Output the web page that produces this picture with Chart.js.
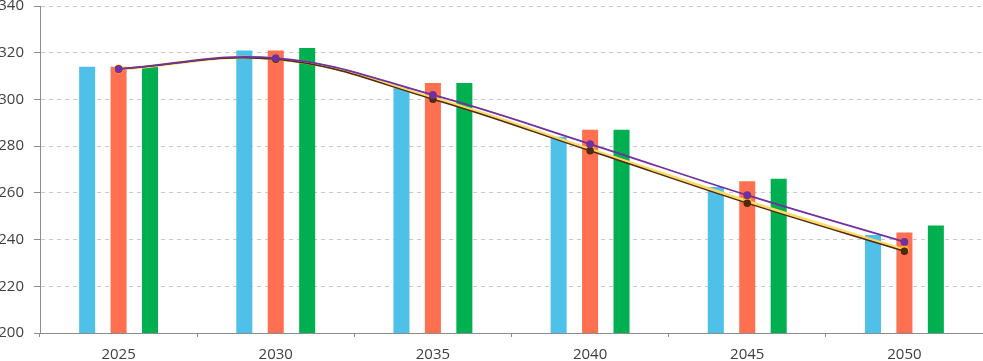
<!DOCTYPE html>
<html>
<head>
<meta charset="utf-8">
<script src="https://cdn.jsdelivr.net/npm/chart.js@4"></script>
<style>
  html, body { margin: 0; padding: 0; background: #fff; overflow: hidden; }
  #wrap { position: relative; width: 983px; height: 361px; }
</style>
</head>
<body>
<div id="wrap"><canvas id="chart"></canvas></div>
<script>
const years = ["2025", "2030", "2035", "2040", "2045", "2050"];

// bars
const barBlue = [314, 321, 305, 284, 262.5, 242];
const barOrange = [314, 321, 307, 287, 265, 243];
const barGreen = [314, 322, 307, 287, 266, 246];

// lines
const linePurple = [313, 317.7, 301.9, 280.9, 259, 239];
const lineYellow = [313, 317.4, 300.6, 278.6, 256.4, 235.6];
const lineBrown = [313, 317.2, 300.1, 278, 255.6, 235];

const yTicks = { min: 200, max: 340, step: 20 };

const ctx = document.getElementById("chart").getContext("2d");

function lineSet(data, color, width, pointColor) {
  return {
    type: "line",
    data: data,
    borderColor: color,
    borderWidth: width,
    backgroundColor: pointColor,
    pointBackgroundColor: pointColor,
    pointBorderColor: pointColor,
    pointRadius: 3,
    tension: 0.4,
    fill: false,
  };
}

const chart = new Chart(ctx, {
  data: {
    labels: years,
    datasets: [
      lineSet(linePurple, "#7030A0", 1.8, "#7030A0"),
      lineSet(lineBrown, "#4E2A10", 1.5, "#4E2A10"),
      lineSet(lineYellow, "#FFD966", 3, "#FFC000"),
      { type: "bar", data: barBlue, backgroundColor: "#4FC1E9" },
      { type: "bar", data: barOrange, backgroundColor: "#FF7050" },
      { type: "bar", data: barGreen, backgroundColor: "#00B050" },
    ],
  },
  options: {
    responsive: true,
    maintainAspectRatio: false,
    animation: false,
    layout: { padding: 0 },
    datasets: {
      bar: { categoryPercentage: 0.6, barPercentage: 0.51 },
    },
    plugins: { legend: { display: false }, tooltip: { enabled: false } },
    scales: {
      x: {
        offset: true,
        grid: {
          offset: true,
          drawOnChartArea: false,
          drawTicks: true,
          tickLength: 4,
          color: "#8c8c8c",
        },
        border: { color: "#8c8c8c", width: 1 },
        ticks: {
          color: "#404040",
          font: { family: "Open Sans", size: 15 },
          padding: 9,
        },
      },
      y: {
        min: yTicks.min,
        max: yTicks.max,
        afterFit: (scale) => { scale.width = 40; },
        grid: {
          color: "#c8c8c8",
          drawTicks: true,
          tickLength: 6,
          tickColor: "#8c8c8c",
        },
        border: { color: "#8c8c8c", width: 1, dash: [4, 4] },
        ticks: {
          stepSize: yTicks.step,
          color: "#404040",
          font: { family: "Open Sans", size: 15 },
          padding: 10,
        },
      },
    },
  },
});

// stretch the canvas so the plot area fills the frame like the original
const wrap = document.getElementById("wrap");
const area = chart.chartArea;
const shiftTop = area.top - 6;
const bottomGap = 361 - area.bottom;
const rightGap = 983 - area.right;
wrap.style.top = -shiftTop + "px";
wrap.style.height = 333 + bottomGap + shiftTop + "px";
wrap.style.width = 983 + rightGap + "px";
chart.resize();
</script>
</body>
</html>
